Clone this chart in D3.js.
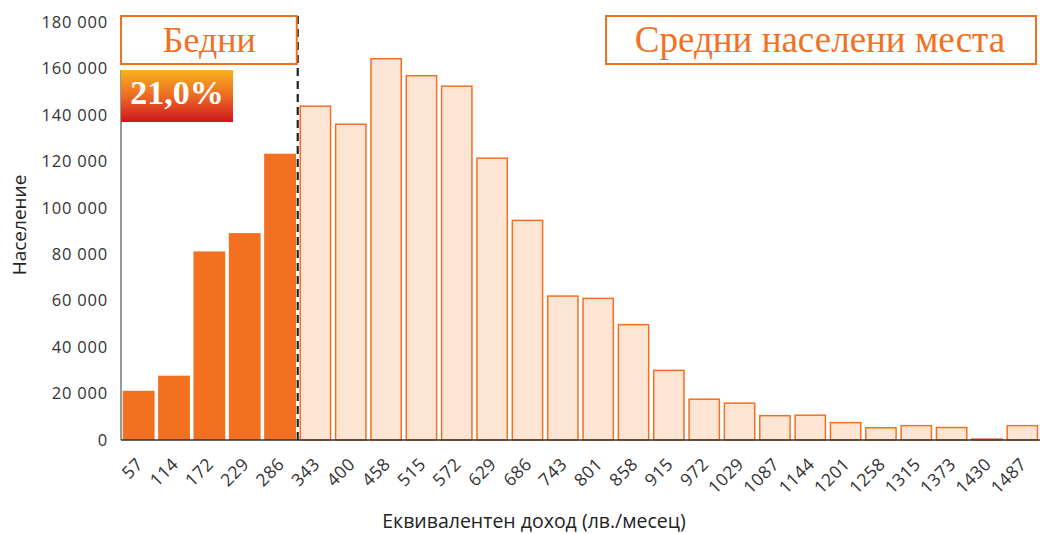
<!DOCTYPE html>
<html>
<head>
<meta charset="utf-8">
<script src="https://cdn.jsdelivr.net/npm/d3@7"></script>
<style>
  body { margin: 0; background: #fff; }
  svg { display: block; }
  .tick-label { font-family: "Open Sans", sans-serif; fill: #333; }
</style>
</head>
<body>
<svg id="chart"></svg>
<script>
var width = 1040;
var height = 534;

var incomes = ["57", "114", "172", "229", "286", "343", "400", "458", "515", "572",
    "629", "686", "743", "801", "858", "915", "972", "1029", "1087", "1144",
    "1201", "1258", "1315", "1373", "1430", "1487"];
var population = [21200, 27700, 81200, 89100, 123300, 144100, 136300, 164500, 157200, 152700,
    121700, 94900, 62300, 61300, 50000, 30300, 17900, 16200, 10800, 11000,
    7800, 5600, 6500, 5700, 700, 6500];
var poorCount = 5;
var yTicks = [0, 20000, 40000, 60000, 80000, 100000, 120000, 140000, 160000, 180000];

var plotLeft = 121, plotRight = 1040, plotTop = 22, plotBottom = 440;

var svg = d3.select("#chart")
    .attr("width", width)
    .attr("height", height);

var x = d3.scaleBand()
    .domain(incomes)
    .range([plotLeft, plotRight])
    .paddingInner(0.1)
    .paddingOuter(0.05);

var y = d3.scaleLinear()
    .domain([0, 180000])
    .range([plotBottom, plotTop]);

var fmt = function (v) {
    return d3.format(",")(v).replace(/,/g, " ");
};

// y tick labels
svg.append("g")
    .selectAll("text")
    .data(yTicks)
    .enter()
    .append("text")
    .attr("class", "tick-label")
    .attr("font-size", "16.5px")
    .attr("letter-spacing", "0.8px")
    .attr("x", 108)
    .attr("y", function (d) { return y(d); })
    .attr("dy", "0.35em")
    .attr("text-anchor", "end")
    .text(fmt);

// bars
var data = [];
for (var i = 0; i < incomes.length; i++) {
    data.push({ income: incomes[i], value: population[i], poor: i < poorCount });
}

svg.append("g")
    .selectAll("rect")
    .data(data)
    .enter()
    .append("rect")
    .attr("x", function (d) { return x(d.income) + (d.poor ? 0 : 0.75); })
    .attr("y", function (d) { return y(d.value) + (d.poor ? 0 : 0.75); })
    .attr("width", function (d) { return x.bandwidth() - (d.poor ? 0 : 1.5); })
    .attr("height", function (d) { return plotBottom - y(d.value) - (d.poor ? 0 : 0.75); })
    .attr("fill", function (d) { return d.poor ? "#f37021" : "#fde4d3"; })
    .attr("stroke", function (d) { return d.poor ? "none" : "#f37021"; })
    .attr("stroke-width", 1.5);

// x tick labels
svg.append("g")
    .selectAll("text")
    .data(incomes)
    .enter()
    .append("text")
    .attr("class", "tick-label")
    .attr("font-size", "17.5px")
    .attr("letter-spacing", "0.4px")
    .attr("text-anchor", "end")
    .attr("transform", function (d) {
        return "translate(" + (x(d) + x.bandwidth() / 2 + 1) + "," + 461 + ") rotate(-45)";
    })
    .attr("dy", "0.35em")
    .text(function (d) { return d; });

// axes lines
svg.append("line")
    .attr("x1", plotLeft).attr("x2", plotLeft)
    .attr("y1", 70).attr("y2", plotBottom)
    .attr("stroke", "#555").attr("stroke-width", 1.2);

svg.append("line")
    .attr("x1", plotLeft).attr("x2", plotRight)
    .attr("y1", plotBottom).attr("y2", plotBottom)
    .attr("stroke", "#333").attr("stroke-width", 1.5);

// divider between poor and middle
var divX = (x(incomes[poorCount - 1]) + x.bandwidth() + x(incomes[poorCount])) / 2;
svg.append("line")
    .attr("x1", divX).attr("x2", divX)
    .attr("y1", 16).attr("y2", plotBottom)
    .attr("stroke", "#222")
    .attr("stroke-width", 2.2)
    .attr("stroke-dasharray", "8,5");

// label boxes
svg.append("rect")
    .attr("x", plotLeft).attr("y", 16)
    .attr("width", divX - plotLeft - 1).attr("height", 48)
    .attr("fill", "#fff")
    .attr("stroke", "#f37021").attr("stroke-width", 2);

svg.append("text")
    .attr("x", (plotLeft + divX) / 2)
    .attr("y", 52)
    .attr("text-anchor", "middle")
    .attr("font-family", "Liberation Serif, serif")
    .attr("font-size", "36px")
    .attr("fill", "#f37021")
    .text("Бедни");

svg.append("rect")
    .attr("x", 606).attr("y", 16)
    .attr("width", 430).attr("height", 48)
    .attr("fill", "#fff")
    .attr("stroke", "#f37021").attr("stroke-width", 2);

svg.append("text")
    .attr("x", 820)
    .attr("y", 52)
    .attr("text-anchor", "middle")
    .attr("font-family", "Liberation Serif, serif")
    .attr("font-size", "37px")
    .attr("fill", "#f37021")
    .text("Средни населени места");

// share badge
var defs = svg.append("defs");
var grad = defs.append("linearGradient")
    .attr("id", "badgeGrad")
    .attr("x1", "0%").attr("x2", "0%")
    .attr("y1", "0%").attr("y2", "100%");
grad.append("stop").attr("offset", "0%").attr("stop-color", "#f9b31b");
grad.append("stop").attr("offset", "50%").attr("stop-color", "#ec6a24");
grad.append("stop").attr("offset", "100%").attr("stop-color", "#cf161d");

svg.append("rect")
    .attr("x", plotLeft).attr("y", 70)
    .attr("width", 112).attr("height", 52)
    .attr("fill", "url(#badgeGrad)");

svg.append("text")
    .attr("x", plotLeft + 56)
    .attr("y", 104)
    .attr("text-anchor", "middle")
    .attr("font-family", "Liberation Serif, serif")
    .attr("font-weight", "bold")
    .attr("font-size", "34px")
    .attr("fill", "#fff")
    .text("21,0%");

// axis titles
svg.append("text")
    .attr("transform", "translate(26,225) rotate(-90)")
    .attr("text-anchor", "middle")
    .attr("font-family", "Open Sans, sans-serif")
    .attr("font-size", "19px")
    .attr("fill", "#222")
    .text("Население");

svg.append("text")
    .attr("x", 534)
    .attr("y", 528)
    .attr("text-anchor", "middle")
    .attr("font-family", "Open Sans, sans-serif")
    .attr("font-size", "19.5px")
    .attr("fill", "#222")
    .text("Еквивалентен доход (лв./месец)");
</script>
</body>
</html>
